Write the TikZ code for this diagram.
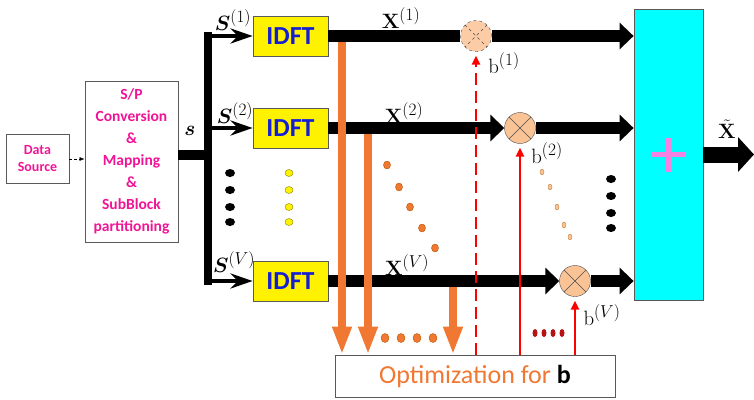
\documentclass[tikz,border=0pt]{standalone}
\usepackage[no-math]{fontspec}
\setmainfont{Carlito}
\usepackage{amsmath,bm}
\DeclareMathSizes{20}{20}{16}{12}
\usetikzlibrary{arrows.meta}
\definecolor{pinktxt}{RGB}{240,20,150}
\definecolor{idftblue}{RGB}{20,30,210}
\definecolor{optorange}{RGB}{240,120,50}
\definecolor{mulfill}{RGB}{250,195,150}
\definecolor{sumcyan}{RGB}{0,255,255}
\definecolor{pluspink}{RGB}{245,130,225}
\definecolor{darkred}{RGB}{180,20,20}

\begin{document}
\begin{tikzpicture}[x=1pt, y=-1pt,
    box/.style={draw=gray!70!black, line width=0.8pt, align=center, inner sep=0pt},
    idft/.style={box, fill=yellow, minimum width=75pt, minimum height=40pt, text=idftblue, font=\fontsize{26}{26}\selectfont\bfseries},
    mul/.style={circle, draw=gray!60!black, fill=mulfill, minimum size=31pt, inner sep=0pt,
        path picture={\draw[gray!60!black] (path picture bounding box.north west) -- (path picture bounding box.south east)
            (path picture bounding box.north east) -- (path picture bounding box.south west);}},
    lab/.style={font=\fontsize{20}{24}\selectfont, inner sep=0pt},
    bus/.style={line width=12pt},
    busarrow/.style={bus, -{Triangle[length=14pt,width=26pt]}},
    branch/.style={line width=4pt, -{Stealth[length=22pt,width=15pt]}},
    feed/.style={optorange, line width=8pt, -{Triangle[length=28pt,width=18pt]}},
    ctrl/.style={red, line width=2.5pt, -{Triangle[length=9pt,width=8pt]}, shorten >=4pt}]
\useasboundingbox (0,0) rectangle (754,399);

\node[box, minimum width=63pt, minimum height=49pt, text=pinktxt, font=\fontsize{14}{17}\selectfont\bfseries] (src) at (37.5,159) {Data\\Source};
\node[box, minimum width=93pt, minimum height=161pt, text=pinktxt, font=\fontsize{15.5}{22}\selectfont\bfseries] (sp) at (131.5,161.5)
    {S/P\\Conversion\\\&\\Mapping\\\&\\SubBlock\\partitioning};
\node[idft] (idft1) at (290.5,36) {IDFT};
\node[idft] (idft2) at (290.5,128) {IDFT};
\node[idft] (idftV) at (290.5,281) {IDFT};
\node[box, fill=sumcyan, minimum width=69pt, minimum height=291pt] (sum) at (668.5,154.5) {};
\node[box, minimum width=280pt, minimum height=42pt, font=\fontsize{26}{26}\selectfont] (opt) at (475,376)
    {\textcolor{optorange}{Optimization for} \textbf{b}};
\node[mul, dashed, fill=mulfill!85] (m1) at (476,36) {};
\node[mul] (m2) at (520,128) {};
\node[mul] (mV) at (575,281) {};

\coordinate (split) at (208,155);
\coordinate (xout) at (754,154.5);
\coordinate (f1) at (342,42);
\coordinate (f2) at (368,134);
\coordinate (fV) at (453,287);

% input side
\draw[thin, densely dashed, -{Latex[length=5pt]}] (src.east) -- (src.east -| sp.west);
\draw[line width=10pt] (sp.east |- split) -- (split);
\draw[line width=8pt, line cap=rect] (split |- idft1) -- (split |- idftV);
\draw[branch] (split |- idft1) -- (idft1);
\draw[branch] (split |- idft2) -- (idft2);
\draw[branch] (split |- idftV) -- (idftV);

% sub-block outputs
\draw[bus] (idft1) -- (m1);
\draw[busarrow] (m1) -- (m1 -| sum.west);
\draw[busarrow] (idft2) -- (m2);
\draw[busarrow] (m2) -- (m2 -| sum.west);
\draw[busarrow] (idftV) -- (mV);
\draw[busarrow] (mV) -- (mV -| sum.west);
\draw[line width=16pt, -{Triangle[length=16pt,width=34pt]}] (sum.east |- xout) -- (xout);
\draw[pluspink, line width=5pt] ([xshift=-17pt]sum.center) -- ([xshift=17pt]sum.center)
    ([yshift=-17pt]sum.center) -- ([yshift=17pt]sum.center);

% to and from the optimization
\draw[feed] (f1) -- (f1 |- opt.north);
\draw[feed] (f2) -- (f2 |- opt.north);
\draw[feed] (fV) -- (fV |- opt.north);
\draw[ctrl, dash pattern=on 12pt off 6pt] (m1 |- opt.north) -- (m1.south);
\draw[ctrl] (m2 |- opt.north) -- (m2.south);
\draw[ctrl] (mV |- opt.north) -- (mV.south);

% labels
\node[lab] (ls) at (190,131) {$\bm{s}$};
\node[lab] (lS1) at (233,20) {$\bm{S}^{(1)}$};
\node[lab] (lS2) at (235,113) {$\bm{S}^{(2)}$};
\node[lab] (lSV) at (234,262) {$\bm{S}^{(V)}$};
\node[lab] (lX1) at (401,18) {$\mathbf{X}^{(1)}$};
\node[lab] (lX2) at (404,113) {$\mathbf{X}^{(2)}$};
\node[lab] (lXV) at (407,265) {$\mathbf{X}^{(V)}$};
\node[lab] (lb1) at (504,63) {$\mathrm{b}^{(1)}$};
\node[lab] (lb2) at (547,153) {$\mathrm{b}^{(2)}$};
\node[lab] (lbV) at (602,315) {$\mathrm{b}^{(V)}$};
\node[lab] (lxt) at (727,129) {$\tilde{\mathbf{X}}$};

% dots
\foreach \y in {173,190,207,222} {
  \fill (230,\y) ellipse (5pt and 4pt);
  \filldraw[draw=olive, fill=yellow] (289,\y) ellipse (4pt and 3.5pt);
  \fill (611,\y+6) ellipse (5pt and 4pt);
}
\foreach \p in {(387,165),(399,187),(410,207),(422,228),(435,248)}
  \filldraw[draw=orange!70!black, fill=optorange] \p ellipse (3.5pt and 4pt);
\foreach \p in {(542,172),(550,187),(557,207),(564,225),(570,237)}
  \filldraw[draw=brown, fill=mulfill] \p ellipse (2pt and 3pt);
\foreach \x in {385,401,417,433}
  \filldraw[draw=orange!70!black, fill=optorange] (\x,338) ellipse (4pt and 4.5pt);
\foreach \x in {535,544,553,562}
  \fill[darkred] (\x,333) ellipse (2.5pt and 4pt);
\end{tikzpicture}
\end{document}
